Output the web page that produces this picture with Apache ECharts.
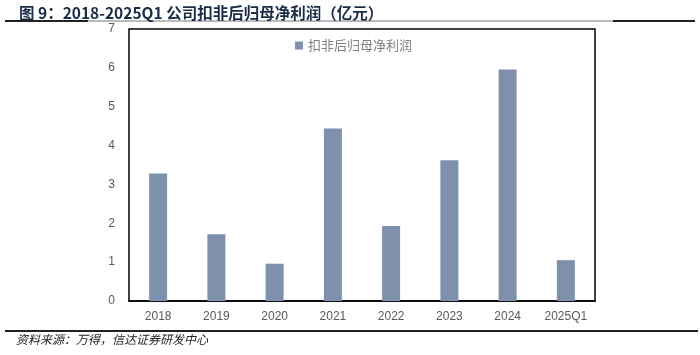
<!DOCTYPE html>
<html><head><meta charset="utf-8">
<script src="https://cdn.jsdelivr.net/npm/echarts@6/dist/echarts.min.js"></script>
<style>html,body{margin:0;padding:0;background:#fff}#c{width:700px;height:355px}</style>
</head><body><div id="c"></div>
<script>
var categories = ['2018','2019','2020','2021','2022','2023','2024','2025Q1'];
var profitValues = [3.28, 1.72, 0.96, 4.44, 1.93, 3.62, 5.96, 1.05];
var yTicks = [0,1,2,3,4,5,6,7];
var seriesName = '扣非后归母净利润';
var titleText = '图 9：2018-2025Q1 公司扣非后归母净利润（亿元）';
var sourceText = '资料来源：万得，信达证券研发中心';

var chart = echarts.init(document.getElementById('c'), null, {renderer:'canvas'});
chart.setOption({
  animation:false,
  backgroundColor:'#fff',
  title:{text:titleText,left:14,top:0,textStyle:{fontFamily:'Noto Sans CJK SC',fontSize:15.5,fontWeight:'bold',color:'#1b2a47'}},
  legend:{data:[{name:seriesName,icon:'rect'}],left:290,top:34,itemWidth:8,itemHeight:8,itemGap:4,
    textStyle:{fontFamily:'Noto Sans CJK SC',fontSize:13,color:'#808080'}},
  grid:{left:129,right:105,top:29,bottom:54,show:true,borderColor:'#000',borderWidth:1.5,backgroundColor:'transparent'},
  xAxis:{type:'category',data:categories,axisLine:{show:true,lineStyle:{color:'#000',width:1.5}},axisTick:{show:false},
    axisLabel:{margin:10,fontFamily:'Liberation Sans',fontSize:12,color:'#595959'}},
  yAxis:{type:'value',min:0,max:7,interval:1,axisLine:{show:false},axisTick:{show:false},splitLine:{show:false},
    axisLabel:{margin:14,fontFamily:'Liberation Sans',fontSize:12,color:'#595959',
      formatter:function(v){return yTicks.indexOf(v)>=0?String(v):'';}}},
  series:[{name:seriesName,type:'bar',data:profitValues,barWidth:18,itemStyle:{color:'#7f90ad'}}],
  graphic:[
    {type:'line',shape:{x1:5,y1:21,x2:695,y2:21},style:{stroke:'#777',lineWidth:1}},
    {type:'line',shape:{x1:5,y1:21,x2:88,y2:21},style:{stroke:'#222',lineWidth:2}},
    {type:'line',shape:{x1:613,y1:21,x2:695,y2:21},style:{stroke:'#222',lineWidth:2}},
    {type:'line',shape:{x1:5,y1:331,x2:698,y2:331},style:{stroke:'#222',lineWidth:2}},
    {type:'text',left:16,top:333,style:{text:sourceText,font:'italic 12px "Noto Sans CJK SC"',fill:'#222'}}
  ]
});
</script></body></html>
